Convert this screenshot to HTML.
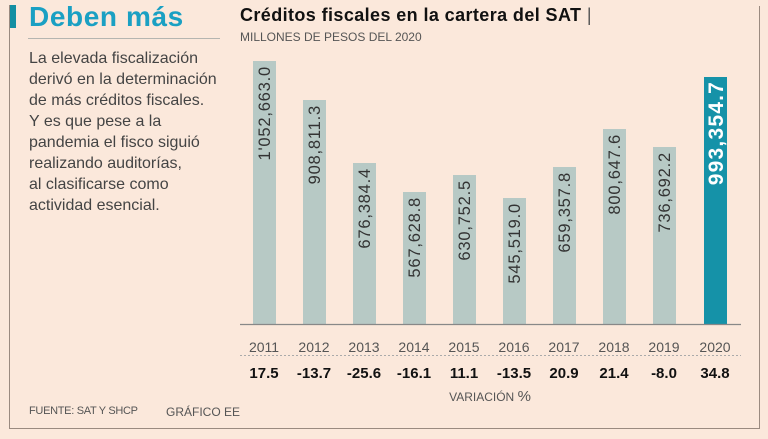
<!DOCTYPE html>
<html><head><meta charset="utf-8"><style>
body{margin:0;width:768px;height:439px;background:#fbe8db;position:relative;overflow:hidden;font-family:"Liberation Sans",sans-serif;}
.a{position:absolute;white-space:nowrap;}
</style></head><body>
<div class="a" style="left:9px;top:5px;width:7px;height:23px;background:#138fa3"></div>
<div class="a" style="left:9px;top:5px;width:1px;height:424px;background:#9a8a80"></div>
<div class="a" style="left:9px;top:428px;width:751px;height:1px;background:#9a8a80"></div>
<div class="a" style="left:759px;top:6px;width:1px;height:423px;background:#9a8a80"></div>
<div class="a" style="left:29px;top:1px;font-size:28px;letter-spacing:0.6px;font-weight:bold;color:#1aa0c3">Deben más</div>
<div class="a" style="left:28px;top:38px;width:192px;height:1px;background:#b5b5b0"></div>
<div class="a" style="left:29px;top:48px;font-size:16px;line-height:21px;color:#444;">La elevada fiscalización<br>derivó en la determinación<br>de más créditos fiscales.<br>Y es que pese a la<br>pandemia el fisco siguió<br>realizando auditorías,<br>al clasificarse como<br>actividad esencial.</div>
<div class="a" style="left:240px;top:5px;font-size:18px;letter-spacing:0.4px;font-weight:bold;color:#111">Créditos fiscales en la cartera del SAT <span style="font-weight:normal;color:#555">|</span></div>
<div class="a" style="left:240px;top:30px;font-size:12px;color:#555">MILLONES DE PESOS DEL 2020</div>
<div class="a" style="left:29px;top:405px;font-size:11px;letter-spacing:-0.3px;color:#555">FUENTE: SAT Y SHCP</div>
<div class="a" style="left:166px;top:405px;font-size:12px;color:#555">GRÁFICO EE</div>
<svg class="a" style="left:0;top:0" width="768" height="439">
<g fill="#b7c9c5">
<rect x="253" y="61" width="23" height="263"/>
<rect x="303" y="100" width="23" height="224"/>
<rect x="353" y="163" width="23" height="161"/>
<rect x="403" y="192" width="23" height="132"/>
<rect x="453" y="175" width="23" height="149"/>
<rect x="503" y="198" width="23" height="126"/>
<rect x="553" y="167" width="23" height="157"/>
<rect x="603" y="129" width="23" height="195"/>
<rect x="653" y="147" width="23" height="177"/>
</g>
<rect x="704" y="77" width="23" height="247" fill="#1592a8"/>
<line x1="240" y1="324.5" x2="741" y2="324.5" stroke="#888" stroke-width="1.2"/>
<line x1="240" y1="355.5" x2="741" y2="355.5" stroke="#aaa" stroke-dasharray="2,2"/>
<g font-family="Liberation Sans" font-size="16.5" letter-spacing="0.8" fill="#333" text-anchor="end">
<text transform="translate(270,66) rotate(-90)">1'052,663.0</text>
<text transform="translate(320,105) rotate(-90)">908,811.3</text>
<text transform="translate(370,168) rotate(-90)">676,384.4</text>
<text transform="translate(420,197) rotate(-90)">567,628.8</text>
<text transform="translate(470,180) rotate(-90)">630,752.5</text>
<text transform="translate(520,203) rotate(-90)">545,519.0</text>
<text transform="translate(570,172) rotate(-90)">659,357.8</text>
<text transform="translate(620,134) rotate(-90)">800,647.6</text>
<text transform="translate(670,152) rotate(-90)">736,692.2</text>
<text transform="translate(723,81) rotate(-90)" font-size="21" letter-spacing="1.2" font-weight="bold" fill="#fff">993,354.7</text>
</g>
<g font-family="Liberation Sans" font-size="14" fill="#555" text-anchor="middle">
<text x="264" y="352">2011</text><text x="314" y="352">2012</text><text x="364" y="352">2013</text><text x="414" y="352">2014</text><text x="464" y="352">2015</text><text x="514" y="352">2016</text><text x="564" y="352">2017</text><text x="614" y="352">2018</text><text x="664" y="352">2019</text><text x="715" y="352">2020</text>
</g>
<g font-family="Liberation Sans" font-size="15" font-weight="bold" fill="#111" text-anchor="middle">
<text x="264" y="378">17.5</text><text x="314" y="378">-13.7</text><text x="364" y="378">-25.6</text><text x="414" y="378">-16.1</text><text x="464" y="378">11.1</text><text x="514" y="378">-13.5</text><text x="564" y="378">20.9</text><text x="614" y="378">21.4</text><text x="664" y="378">-8.0</text><text x="715" y="378">34.8</text>
</g>
<text x="490" y="401" font-family="Liberation Sans" font-size="12" fill="#555" text-anchor="middle">VARIACIÓN <tspan font-size="15">%</tspan></text>
</svg>
</body></html>
